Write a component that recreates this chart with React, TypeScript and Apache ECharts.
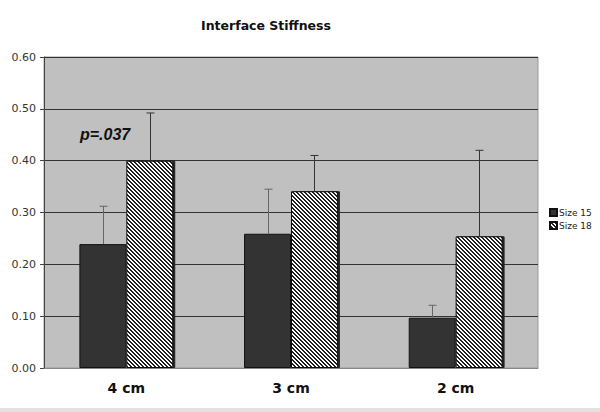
import React, { useEffect, useRef } from "react";
import * as echarts from "echarts";

const categories = ["4 cm", "3 cm", "2 cm"];
const size15 = [0.239, 0.259, 0.097];
const size18 = [0.4, 0.341, 0.254];
const err15 = [0.073, 0.086, 0.024];
const err18 = [0.092, 0.069, 0.166];
const yTicks = [0, 0.1, 0.2, 0.3, 0.4, 0.5, 0.6];

const BAR_FRAC = 0.285;

function makeHatch(): HTMLCanvasElement {
  const c = document.createElement("canvas");
  c.width = 4;
  c.height = 4;
  const ctx = c.getContext("2d")!;
  ctx.fillStyle = "#ffffff";
  ctx.fillRect(0, 0, 4, 4);
  ctx.fillStyle = "#222222";
  for (let y = 0; y < 4; y++) {
    for (let x = 0; x < 4; x++) {
      const d = (((x - y) % 4) + 4) % 4;
      if (d === 0 || d === 1) ctx.fillRect(x, y, 1, 1);
    }
  }
  return c;
}

export default function App() {
  const ref = useRef<HTMLDivElement>(null);
  useEffect(() => {
    if (!ref.current) return;
    const chart = echarts.init(ref.current, null, { renderer: "svg" });
    const errData: number[][] = [];
    categories.forEach((_, i) => {
      errData.push([i, size15[i], size15[i] + err15[i], 0]);
      errData.push([i, size18[i], size18[i] + err18[i], 1]);
    });
    const hatchCanvas = makeHatch();
    const hatchFill: any = {
      image: hatchCanvas,
      repeat: "repeat",
      imageWidth: 4,
      imageHeight: 4,
    };
    chart.setOption({
      animation: false,
      backgroundColor: "#fff",
      title: {
        text: "Interface Stiffness",
        left: 261,
        textAlign: "center",
        top: 14,
        textStyle: { fontFamily: "DejaVu Sans", fontWeight: "bold", fontSize: 12.5, color: "#111" },
      },
      legend: {
        orient: "vertical",
        left: 544,
        top: 203,
        itemWidth: 7,
        itemHeight: 7,
        itemGap: 4,
        textStyle: { fontFamily: "DejaVu Sans", fontSize: 9, color: "#222", padding: [0, 0, 0, -3] },
        data: [
          { name: "Size 15", icon: "rect" },
          { name: "Size 18", icon: "rect" },
        ],
      },
      grid: { left: 44, right: 62, top: 57, bottom: 44 },
      xAxis: {
        type: "category",
        data: categories,
        axisLine: { lineStyle: { color: "#888", width: 1 } },
        axisTick: { show: false },
        axisLabel: {
          fontFamily: "DejaVu Sans",
          fontWeight: "bold",
          fontSize: 14,
          color: "#111",
          margin: 13,
        },
        splitLine: { show: false },
      },
      yAxis: {
        type: "value",
        min: yTicks[0],
        max: yTicks[yTicks.length - 1],
        interval: 0.1,
        axisLine: { show: true, lineStyle: { color: "#444", width: 1 } },
        axisTick: { show: true, length: 4, lineStyle: { color: "#444" } },
        axisLabel: {
          fontFamily: "DejaVu Sans",
          fontSize: 11,
          color: "#333",
          margin: 8,
          formatter: (v: number) => v.toFixed(2),
        },
        splitLine: { show: true, lineStyle: { color: "#333", width: 1 } },
        splitArea: { show: false },
      },
      graphic: [
        {
          type: "rect",
          z: -1,
          silent: true,
          shape: { x: 44, y: 57, width: 494, height: 311 },
          style: { fill: "#c0c0c0", stroke: "#999", lineWidth: 1 },
        },
        {
          type: "text",
          x: 80,
          y: 126,
          z: 100,
          style: {
            text: "p=.037",
            fontFamily: "Liberation Sans",
            fontWeight: "bold",
            fontStyle: "italic",
            fontSize: 16,
            fill: "#111",
          },
        },
        {
          type: "rect",
          silent: true,
          shape: { x: 0, y: 408, width: 600, height: 4 },
          style: { fill: "#e2e2e2" },
        },
      ],
      series: [
        {
          name: "Size 15",
          type: "bar",
          data: size15,
          barWidth: BAR_FRAC * 100 + "%",
          barGap: "0%",
          itemStyle: { color: "#333333", borderColor: "#111", borderWidth: 1 },
          z: 3,
        },
        {
          name: "Size 18",
          type: "bar",
          data: size18,
          barWidth: BAR_FRAC * 100 + "%",
          barGap: "0%",
          itemStyle: {
            color: hatchFill,
            borderColor: "#111",
            borderWidth: 1,
            shadowColor: "#222",
            shadowOffsetX: 2,
            shadowOffsetY: 0,
            shadowBlur: 0,
          },
          z: 3,
        },
        {
          type: "custom",
          name: "err",
          data: errData,
          z: 5,
          silent: true,
          renderItem: (params: any, api: any) => {
            const cat = api.value(0);
            const lo = api.coord([cat, api.value(1)]);
            const hi = api.coord([cat, api.value(2)]);
            const band = api.size([1, 0])[0];
            const bw = band * BAR_FRAC;
            const off = api.value(3) === 0 ? -bw / 2 : bw / 2;
            const x = Math.round(lo[0] + off) + 0.5;
            const col = api.value(3) === 0 ? "#666" : "#333";
            return {
              type: "group",
              children: [
                { type: "line", shape: { x1: x, y1: lo[1], x2: x, y2: hi[1] }, style: { stroke: col, lineWidth: 1 } },
                { type: "line", shape: { x1: x - 4, y1: hi[1], x2: x + 4, y2: hi[1] }, style: { stroke: col, lineWidth: 1 } },
              ],
            };
          },
        },
      ],
    });
    return () => chart.dispose();
  }, []);
  return <div ref={ref} style={{ position: "absolute", left: 0, top: 0, width: 600, height: 412 }} />;
}
